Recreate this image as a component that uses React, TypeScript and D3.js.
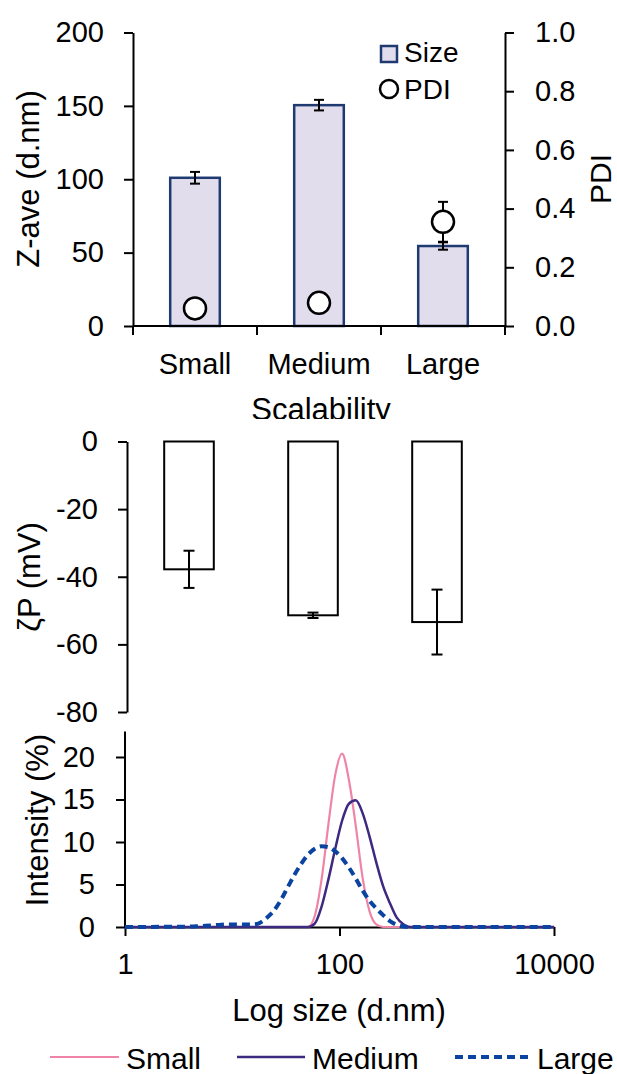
import { useEffect, useRef } from "react";
import * as d3 from "d3";

const FONT = '"Liberation Sans", Arial, sans-serif';

// categories
const categories = ["Small", "Medium", "Large"];

// top panel : Z-average size and PDI
const zaveMean = [101, 150.5, 54.5];
const zaveErr = [4, 3.6, 2.5];
const pdiMean = [0.06, 0.079, 0.355];
const pdiErr = [0.01, 0.01, 0.068];
const zaveTicks = [0, 50, 100, 150, 200];
const pdiTicks = [0, 0.2, 0.4, 0.6, 0.8, 1.0];

// middle panel : zeta potential
const zetaMean = [-37.8, -51.4, -53.4];
const zetaErr = [5.5, 0.8, 9.6];
const zetaTicks = [0, -20, -40, -60, -80];

// bottom panel : intensity distributions
const sizeBins = [
  1, 4.19, 4.853, 5.621, 6.51, 7.54, 8.733, 10.11, 11.71, 13.56, 15.71, 18.17,
  21.04, 24.36, 28.21, 32.67, 37.84, 43.82, 50.75, 58.77, 68.06, 78.82, 91.28,
  105.7, 122.4, 141.8, 164.2, 190.1, 220.2, 255, 295.3, 342, 396.1, 458.7,
  10000,
];
const smallIntensity = [
  0, 0, 0, 0, 0, 0, 0, 0, 0, 0, 0, 0, 0, 0, 0, 0, 0, 0, 0, 1.3, 5.6, 12.1,
  17.9, 20.4, 17.3, 11.9, 5.8, 1.9, 0.3, 0, 0, 0, 0, 0, 0,
];
const mediumIntensity = [
  0, 0, 0, 0, 0, 0, 0, 0, 0, 0, 0, 0, 0, 0, 0, 0, 0, 0, 0, 0.4, 2.4, 5.6, 9.2,
  12.5, 14.5, 14.9, 13.4, 10.7, 7.6, 4.8, 2.8, 1.1, 0.3, 0, 0,
];
const largeIntensity = [
  0, 0.05, 0.1, 0.15, 0.2, 0.25, 0.3, 0.3, 0.3, 0.3, 0.3, 0.5, 1.1, 1.9, 3.1,
  4.6, 6.1, 7.4, 8.5, 9.2, 9.5, 9.4, 8.9, 8.1, 7.0, 5.7, 4.3, 3.1, 2.2, 1.4,
  0.7, 0.25, 0.05, 0, 0,
];
const intensityTicks = [0, 5, 10, 15, 20];
const sizeTicks = [1, 100, 10000];
const seriesNames = ["Small", "Medium", "Large"];

function App() {
  const ref = useRef(null);

  useEffect(() => {
    const svg = d3.select(ref.current);
    svg.selectAll("*").remove();

    const styleAxis = (g, fs) => {
      g.select(".domain").attr("stroke", "#000").attr("stroke-width", 2);
      g.selectAll(".tick line").attr("stroke", "#000").attr("stroke-width", 2);
      g.selectAll(".tick text")
        .attr("fill", "#000")
        .attr("font-size", fs)
        .attr("font-family", FONT);
    };

    const errorBar = (g, x, y1, y2, cap) => {
      g.append("line")
        .attr("x1", x).attr("x2", x)
        .attr("y1", y1).attr("y2", y2)
        .attr("stroke", "#000").attr("stroke-width", 2);
      [y1, y2].forEach((y) => {
        g.append("line")
          .attr("x1", x - cap / 2).attr("x2", x + cap / 2)
          .attr("y1", y).attr("y2", y)
          .attr("stroke", "#000").attr("stroke-width", 2);
      });
    };

    // plain hyphen for negatives, like the original figure
    const plain = (d) => String(d);

    svg.append("defs")
      .append("clipPath").attr("id", "clipTop")
      .append("rect").attr("x", 0).attr("y", 0).attr("width", 617).attr("height", 419);

    // ---------- Panel 1 ----------
    const p1 = svg.append("g").attr("clip-path", "url(#clipTop)");
    const x1 = d3.scaleBand().domain(categories).range([133, 505])
      .paddingInner(0.6).paddingOuter(0.3);
    const ySize = d3.scaleLinear().domain([0, 200]).range([326, 32.5]);
    const yPdi = d3.scaleLinear().domain([0, 1]).range([326, 32.5]);

    categories.forEach((c, i) => {
      p1.append("rect")
        .attr("x", x1(c))
        .attr("y", ySize(zaveMean[i]))
        .attr("width", x1.bandwidth())
        .attr("height", ySize(0) - ySize(zaveMean[i]))
        .attr("fill", "#E1DDEC")
        .attr("stroke", "#1F3A70")
        .attr("stroke-width", 2.5);
    });
    categories.forEach((c, i) => {
      const cx = x1(c) + x1.bandwidth() / 2;
      errorBar(p1, cx, ySize(zaveMean[i] - zaveErr[i]), ySize(zaveMean[i] + zaveErr[i]), 10);
    });

    // x axis
    p1.append("line")
      .attr("x1", 133).attr("x2", 505).attr("y1", ySize(0)).attr("y2", ySize(0))
      .attr("stroke", "#000").attr("stroke-width", 2);
    const gap = (x1.step() - x1.bandwidth()) / 2;
    const bounds = categories.map((c) => x1(c) - gap).concat([x1.range()[1]]);
    bounds.forEach((bx) => {
      p1.append("line")
        .attr("x1", bx).attr("x2", bx).attr("y1", ySize(0)).attr("y2", ySize(0) + 9)
        .attr("stroke", "#000").attr("stroke-width", 2);
    });
    const ax1b = p1.append("g").attr("transform", `translate(0,${ySize(0)})`)
      .call(d3.axisBottom(x1).tickSize(0).tickPadding(27));
    ax1b.select(".domain").remove();
    styleAxis(ax1b, 29);

    const ax1l = p1.append("g").attr("transform", "translate(133,0)")
      .call(d3.axisLeft(ySize).tickValues(zaveTicks).tickSize(9).tickPadding(20).tickSizeOuter(0));
    styleAxis(ax1l, 29);
    const ax1r = p1.append("g").attr("transform", "translate(505,0)")
      .call(d3.axisRight(yPdi).tickValues(pdiTicks).tickFormat(d3.format(".1f"))
        .tickSize(9).tickPadding(21).tickSizeOuter(0));
    styleAxis(ax1r, 29);

    // PDI points
    categories.forEach((c, i) => {
      const cx = x1(c) + x1.bandwidth() / 2;
      errorBar(p1, cx, yPdi(pdiMean[i] - pdiErr[i]), yPdi(pdiMean[i] + pdiErr[i]), 10);
    });
    categories.forEach((c, i) => {
      p1.append("circle")
        .attr("cx", x1(c) + x1.bandwidth() / 2)
        .attr("cy", yPdi(pdiMean[i]))
        .attr("r", 11)
        .attr("fill", "#fff")
        .attr("stroke", "#000")
        .attr("stroke-width", 2.5);
    });

    // legend
    p1.append("rect").attr("x", 381).attr("y", 46).attr("width", 16).attr("height", 16)
      .attr("fill", "#E1DDEC").attr("stroke", "#1F3A70").attr("stroke-width", 2.5);
    p1.append("text").attr("x", 404).attr("y", 62).attr("font-size", 28)
      .attr("font-family", FONT).text("Size");
    p1.append("circle").attr("cx", 389).attr("cy", 89).attr("r", 9)
      .attr("fill", "#fff").attr("stroke", "#000").attr("stroke-width", 2.5);
    p1.append("text").attr("x", 404).attr("y", 99).attr("font-size", 28)
      .attr("font-family", FONT).text("PDI");

    // titles
    p1.append("text").attr("transform", "translate(39,179) rotate(-90)")
      .attr("text-anchor", "middle").attr("font-size", 31).attr("font-family", FONT)
      .text("Z-ave (d.nm)");
    p1.append("text").attr("transform", "translate(611,179) rotate(-90)")
      .attr("text-anchor", "middle").attr("font-size", 30).attr("font-family", FONT)
      .text("PDI");
    p1.append("text").attr("x", 321).attr("y", 420)
      .attr("text-anchor", "middle").attr("font-size", 31).attr("font-family", FONT)
      .text("Scalability");

    // ---------- Panel 2 ----------
    const p2 = svg.append("g");
    const x2 = d3.scaleBand().domain(categories).range([127, 499])
      .paddingInner(0.6).paddingOuter(0.3);
    const yZeta = d3.scaleLinear().domain([0, -80]).range([441.5, 712]);

    categories.forEach((c, i) => {
      p2.append("rect")
        .attr("x", x2(c))
        .attr("y", yZeta(0))
        .attr("width", x2.bandwidth())
        .attr("height", yZeta(zetaMean[i]) - yZeta(0))
        .attr("fill", "#fff")
        .attr("stroke", "#000")
        .attr("stroke-width", 2);
    });
    categories.forEach((c, i) => {
      const cx = x2(c) + x2.bandwidth() / 2;
      errorBar(p2, cx, yZeta(zetaMean[i] + zetaErr[i]), yZeta(zetaMean[i] - zetaErr[i]), 11);
    });
    const ax2l = p2.append("g").attr("transform", "translate(127,0)")
      .call(d3.axisLeft(yZeta).tickValues(zetaTicks).tickFormat(plain)
        .tickSize(9).tickPadding(20).tickSizeOuter(0));
    styleAxis(ax2l, 29);
    p2.append("text").attr("transform", "translate(40,577) rotate(-90)")
      .attr("text-anchor", "middle").attr("font-size", 31).attr("font-family", FONT)
      .text("ζP (mV)");

    // ---------- Panel 3 ----------
    const p3 = svg.append("g");
    const xLog = d3.scaleLog().domain([1, 10000]).range([125, 554]);
    const yInt = d3.scaleLinear().domain([0, 20]).range([927, 757]);
    const intensityTop = 23;

    const ax3l = p3.append("g").attr("transform", "translate(125,0)")
      .call(d3.axisLeft(yInt).tickValues(intensityTicks).tickSize(9).tickPadding(21));
    ax3l.select(".domain").remove();
    styleAxis(ax3l, 29);
    p3.append("line")
      .attr("x1", 125).attr("x2", 125).attr("y1", yInt(0)).attr("y2", yInt(intensityTop))
      .attr("stroke", "#000").attr("stroke-width", 2);

    const ax3b = p3.append("g").attr("transform", `translate(0,${yInt(0)})`)
      .call(d3.axisBottom(xLog).tickValues(sizeTicks).tickFormat(d3.format("d"))
        .tickSize(9).tickPadding(17).tickSizeOuter(0));
    styleAxis(ax3b, 29);

    const series = [
      { values: smallIntensity, color: "#EF84A6", width: 2.2, dash: null },
      { values: mediumIntensity, color: "#3D2A80", width: 2.5, dash: null },
      { values: largeIntensity, color: "#0B43A0", width: 4, dash: "8,5" },
    ];
    const line = d3.line()
      .x((d) => xLog(d[0]))
      .y((d) => yInt(d[1]))
      .curve(d3.curveMonotoneX);
    series.forEach((s) => {
      p3.append("path")
        .attr("d", line(sizeBins.map((b, i) => [b, s.values[i]])))
        .attr("fill", "none")
        .attr("stroke", s.color)
        .attr("stroke-width", s.width)
        .attr("stroke-dasharray", s.dash);
    });

    p3.append("text").attr("transform", "translate(48,820) rotate(-90)")
      .attr("text-anchor", "middle").attr("font-size", 31).attr("font-family", FONT)
      .text("Intensity (%)");
    p3.append("text").attr("x", 339).attr("y", 1021)
      .attr("text-anchor", "middle").attr("font-size", 31).attr("font-family", FONT)
      .text("Log size (d.nm)");

    // legend
    const legendX = [50, 237, 455];
    const legendLen = [69, 68, 75];
    series.forEach((s, i) => {
      p3.append("line")
        .attr("x1", legendX[i]).attr("x2", legendX[i] + legendLen[i])
        .attr("y1", 1057).attr("y2", 1057)
        .attr("stroke", s.color).attr("stroke-width", s.width)
        .attr("stroke-dasharray", s.dash);
      p3.append("text")
        .attr("x", legendX[i] + legendLen[i] + 7).attr("y", 1069)
        .attr("font-size", 30).attr("font-family", FONT)
        .text(seriesNames[i]);
    });
  }, []);

  return (
    <svg
      ref={ref}
      width={617}
      height={1074}
      style={{ position: "absolute", left: 0, top: 0, background: "#fff" }}
    ></svg>
  );
}

export default App;
